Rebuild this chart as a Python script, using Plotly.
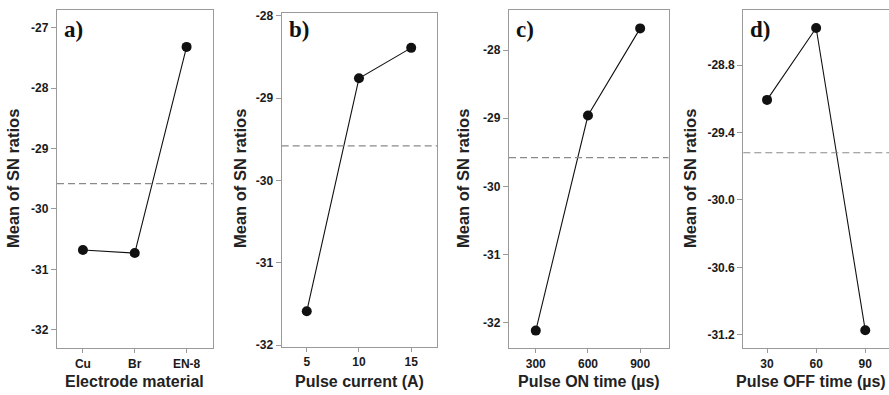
import plotly.graph_objects as go

# ---- data ----
electrode = ["Cu", "Br", "EN-8"]
sn_electrode = [-30.68, -30.73, -27.32]

current = [5, 10, 15]
sn_current = [-31.59, -28.76, -28.39]

on_time = [300, 600, 900]
sn_on = [-32.12, -28.96, -27.68]

off_time = [30, 60, 90]
sn_off = [-29.11, -28.47, -31.16]

overall_mean = -29.58

panel_labels = ["a)", "b)", "c)", "d)"]
x_titles = ["Electrode material", "Pulse current (A)", "Pulse ON time (µs)", "Pulse OFF time (µs)"]
y_title = "Mean of SN ratios"

W, H = 889, 395
fig = go.Figure()

panels = [
    dict(x=electrode, y=sn_electrode, xd=(57, 212.5), yd=(10, 348), xr=[-0.5, 2.5], yr=[-32.30, -26.71],
         ytv=[-32, -31, -30, -29, -28, -27], yfmt="{:.0f}", ytx=13),
    dict(x=current, y=sn_current, xd=(281.7, 437.3), yd=(13.3, 346.7), xr=[2.6, 17.5], yr=[-32.02, -27.97],
         ytv=[-32, -31, -30, -29, -28], yfmt="{:.0f}", ytx=240),
    dict(x=on_time, y=sn_on, xd=(509, 668.5), yd=(10, 348.3), xr=[146, 1063], yr=[-32.38, -27.41],
         ytv=[-32, -31, -30, -29, -28], yfmt="{:.0f}", ytx=463),
    dict(x=off_time, y=sn_off, xd=(743.3, 889), yd=(10, 348.3), xr=[15.5, 104.5], yr=[-31.32, -28.31],
         ytv=[-31.2, -30.6, -30.0, -29.4, -28.8], yfmt="{:.1f}", ytx=690),
]

tickfont = dict(family="Liberation Sans", size=12, color="#1a1a1a")
for i, p in enumerate(panels):
    n = "" if i == 0 else str(i + 1)
    xa, ya = "x" + n, "y" + n
    fig.add_trace(go.Scatter(x=p["x"], y=p["y"], mode="lines+markers", xaxis=xa, yaxis=ya,
                             line=dict(color="#111111", width=1.1),
                             marker=dict(color="#111111", size=10), showlegend=False))
    xaxis = dict(domain=[p["xd"][0] / W, p["xd"][1] / W], anchor=ya, range=p["xr"], automargin=False,
                 showline=True, linecolor="#9a9a9a", linewidth=1.3, mirror=True,
                 ticks="outside", ticklen=4, tickcolor="#9a9a9a", showgrid=False, zeroline=False,
                 tickfont=tickfont, ticklabelstandoff=0,
                 tickvals=p["x"], ticktext=["<b>%s</b>" % v for v in p["x"]])
    if i == 0:
        xaxis["type"] = "category"
    yaxis = dict(domain=[1 - p["yd"][1] / H, 1 - p["yd"][0] / H], anchor=xa, range=p["yr"], automargin=False,
                 showline=True, linecolor="#9a9a9a", linewidth=1.3, mirror=(i < 3),
                 ticks="outside", ticklen=5, tickcolor="#9a9a9a", showgrid=False, zeroline=False,
                 tickvals=p["ytv"], ticktext=["<b>" + p["yfmt"].format(v) + "</b>" for v in p["ytv"]],
                 tickfont=tickfont)
    fig.update_layout(**{"xaxis" + n: xaxis, "yaxis" + n: yaxis})
    # overall mean dashed line
    fig.add_shape(type="line", xref=xa + " domain", yref=ya, x0=0, x1=1, y0=overall_mean, y1=overall_mean,
                  line=dict(color="#8a8a8a", width=1.2, dash="7px,4px"))
    # panel label
    fig.add_annotation(text="<b>" + panel_labels[i] + "</b>", xref="paper", yref="paper",
                       x=(p["xd"][0] + 5) / W, y=1 - 30 / H, xanchor="left", yanchor="middle",
                       showarrow=False, font=dict(family="Liberation Serif", size=23, color="#111111"))
    # x title
    if i < 3:
        fig.add_annotation(text="<b>" + x_titles[i] + "</b>", xref="paper", yref="paper",
                           x=(p["xd"][0] + p["xd"][1]) / 2 / W, y=1 - 381 / H,
                           xanchor="center", yanchor="middle", showarrow=False,
                           font=dict(family="Liberation Sans", size=16, color="#222222"))
    else:
        fig.add_annotation(text="<b>" + x_titles[i] + "</b>", xref="paper", yref="paper",
                           x=888 / W, y=1 - 381 / H,
                           xanchor="right", yanchor="middle", showarrow=False,
                           font=dict(family="Liberation Sans", size=16, color="#222222"))
    # y title
    fig.add_annotation(text="<b>" + y_title + "</b>", xref="paper", yref="paper",
                       x=p["ytx"] / W, y=1 - 179 / H, xanchor="center", yanchor="middle", textangle=-90,
                       showarrow=False, font=dict(family="Liberation Sans", size=16.5, color="#222222"))

fig.update_layout(width=W, height=H, margin=dict(l=0, r=0, t=0, b=0, autoexpand=False),
                  paper_bgcolor="white", plot_bgcolor="white")
fig.write_html("out.html")
